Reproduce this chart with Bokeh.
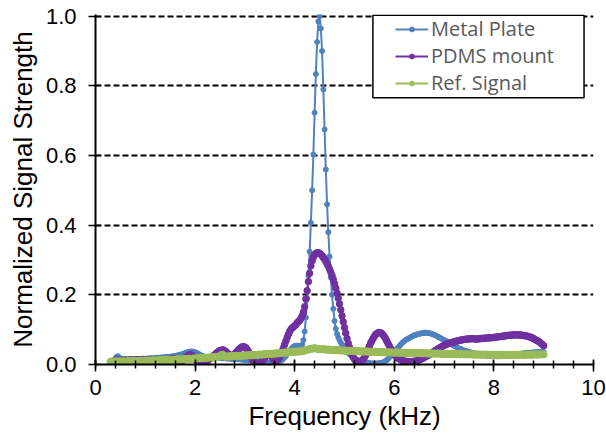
import numpy as np
from bokeh.plotting import figure
from bokeh.models import (FixedTicker, PrintfTickFormatter, Legend, LegendItem,
                          BoxAnnotation)
from bokeh.embed import file_html
from bokeh.resources import INLINE

# ---------------- data (in thousandths) -------------
freq_start = 0.3      # kHz, first sample
freq_step = 0.025     # kHz, sample spacing

metal_plate_milli = [
    None, None, None, None, 18, 22, 24, 20, 17, 16,      # 0.300
    15, 15, 16, 15, 14, 15, 15, 16, 15, 15,              # 0.550
    15, 16, 16, 15, 16, 16, 17, 16, 16, 17,              # 0.800
    17, 17, 18, 18, 17, 18, 18, 19, 19, 19,              # 1.050
    20, 20, 20, 21, 21, 21, 22, 22, 22, 23,              # 1.300
    23, 24, 24, 25, 26, 27, 28, 29, 30, 31,              # 1.550
    33, 34, 35, 36, 37, 37, 37, 36, 35, 34,              # 1.800
    32, 30, 28, 26, 24, 23, 22, 21, 21, 20,              # 2.050
    20, 20, 20, 20, 19, 19, 19, 19, 18, 18,              # 2.300
    18, 18, 18, 17, 17, 17, 17, 16, 16, 16,              # 2.550
    16, 16, 15, 15, 15, 14, 14, 14, 13, 13,              # 2.800
    13, 12, 12, 12, 11, 11, 11, 10, 10, 10,              # 3.050
    9, 9, 8, 8, 7, 7, 6, 5, 5, 4,                        # 3.300
    4, 4, 4, 5, 6, 7, 9, 11, 14, 17,                     # 3.550
    21, 25, 30, 35, 40, 44, 48, 51, 53, 54,              # 3.800
    54, 53, 52, 53, 57, 70, 95, 135, 190, 255,           # 4.050
    324, 407, 500, 603, 723, 834, 926, 985, 1000, 965,   # 4.300
    900, 790, 675, 560, 460, 380, 310, 250, 200, 160,    # 4.550
    125, 103, 88, 78, 70, 63, 56, 50, 45, 40,            # 4.800
    36, 33, 30, 27, 24, 21, 18, 16, 14, 12,              # 5.050
    10, 9, 8, 7, 6, 5, 5, 4, 4, 3,                       # 5.300
    3, 3, 3, 3, 3, 3, 4, 4, 5, 6,                        # 5.550
    8, 10, 13, 16, 20, 24, 28, 32, 36, 40,               # 5.800
    45, 49, 53, 57, 61, 64, 67, 70, 72, 74,              # 6.050
    76, 78, 80, 82, 84, 85, 86, 87, 88, 89,              # 6.300
    90, 90, 91, 91, 91, 90, 90, 89, 88, 87,              # 6.550
    85, 84, 82, 80, 78, 76, 74, 72, 70, 68,              # 6.800
    66, 64, 62, 60, 58, 56, 54, 52, 50, 48,              # 7.050
    46, 45, 43, 42, 40, 39, 38, 37, 36, 35,              # 7.300
    34, 33, 32, 31, 30, 30, 29, 28, 28, 27,              # 7.550
    27, 26, 26, 25, 25, 25, 24, 24, 24, 24,              # 7.800
    24, 24, 24, 24, 24, 25, 25, 25, 25, 26,              # 8.050
    26, 26, 27, 27, 28, 28, 29, 29, 30, 30,              # 8.300
    31, 31, 32, 32, 33, 33, 33, 34, 34, 34,              # 8.550
    35, 35, 35, 35, 36, 36, 36, 36, 36,                  # 8.800
]

pdms_mount_milli = [
    None, None, None, None, 12, 13, 12, 11, 12, 12,      # 0.300
    11, 12, 12, 11, 12, 12, 13, 12, 12, 12,              # 0.550
    12, 13, 13, 12, 12, 13, 13, 12, 12, 11,              # 0.800
    12, 12, 11, 10, 9, 8, 7, 6, 6, 7,                    # 1.050
    8, 9, 10, 11, 12, 13, 14, 14, 15, 16,                # 1.300
    16, 16, 15, 14, 12, 10, 9, 9, 11, 14,                # 1.550
    18, 22, 25, 27, 28, 27, 25, 21, 16, 11,              # 1.800
    7, 4, 3, 2, 2, 3, 5, 8, 11, 14,                      # 2.050
    17, 20, 23, 26, 29, 32, 35, 38, 40, 41,              # 2.300
    42, 41, 39, 36, 32, 29, 27, 26, 26, 28,              # 2.550
    31, 35, 39, 43, 46, 49, 51, 51, 50, 47,              # 2.800
    42, 36, 29, 22, 15, 9, 5, 3, 2, 2,                   # 3.050
    3, 6, 10, 15, 20, 24, 27, 28, 27, 24,                # 3.300
    19, 14, 11, 10, 12, 16, 22, 30, 39, 48,              # 3.550
    58, 68, 78, 87, 95, 101, 105, 108, 111, 114,         # 3.800
    120, 123, 127, 132, 140, 150, 166, 188, 212, 238,    # 4.050
    262, 283, 298, 308, 315, 319, 321, 321, 319, 316,    # 4.300
    312, 307, 302, 296, 289, 282, 274, 265, 255, 244,    # 4.550
    232, 219, 205, 190, 174, 157, 140, 123, 106, 90,     # 4.800
    75, 61, 49, 38, 29, 21, 15, 11, 9, 8,                # 5.050
    8, 9, 11, 15, 20, 27, 35, 44, 53, 62,                # 5.300
    68, 75, 81, 86, 89, 91, 92, 91, 89, 85,              # 5.550
    80, 74, 67, 60, 53, 46, 40, 34, 29, 25,              # 5.800
    21, 18, 16, 14, 12, 11, 10, 9, 9, 8,                 # 6.050
    8, 8, 8, 9, 9, 10, 11, 12, 13, 15,                   # 6.300
    16, 18, 20, 22, 24, 26, 28, 30, 33, 35,              # 6.550
    38, 40, 42, 45, 47, 49, 51, 53, 55, 57,              # 6.800
    58, 60, 61, 62, 63, 64, 65, 66, 67, 68,              # 7.050
    69, 70, 70, 71, 72, 72, 73, 73, 73, 74,              # 7.300
    74, 74, 74, 73, 73, 73, 74, 74, 75, 75,              # 7.550
    75, 76, 76, 76, 76, 77, 77, 77, 78, 78,              # 7.800
    79, 79, 80, 80, 81, 81, 82, 82, 83, 83,              # 8.050
    84, 84, 84, 85, 85, 85, 85, 85, 85, 85,              # 8.300
    84, 84, 83, 83, 82, 81, 80, 79, 78, 76,              # 8.550
    74, 72, 70, 68, 66, 63, 60, 57, 54,                  # 8.800
]

ref_signal_milli = [
    8, 8, 9, 8, 9, 9, 8, 9, 9, 8,                        # 0.300
    9, 9, 8, 9, 9, 10, 9, 9, 10, 9,                      # 0.550
    10, 10, 9, 10, 10, 10, 11, 10, 10, 11,               # 0.800
    11, 10, 11, 11, 11, 12, 11, 11, 12, 12,              # 1.050
    12, 12, 12, 13, 12, 13, 13, 13, 13, 14,              # 1.300
    13, 14, 14, 14, 15, 14, 15, 15, 15, 16,              # 1.550
    15, 16, 16, 16, 17, 16, 17, 17, 17, 18,              # 1.800
    18, 18, 19, 18, 19, 19, 20, 19, 20, 20,              # 2.050
    20, 21, 21, 20, 21, 22, 21, 22, 24, 27,              # 2.300
    28, 26, 23, 22, 23, 23, 24, 23, 24, 24,              # 2.550
    24, 25, 24, 25, 25, 25, 26, 25, 26, 26,              # 2.800
    26, 27, 26, 27, 27, 28, 27, 28, 28, 28,              # 3.050
    29, 28, 29, 29, 30, 29, 30, 30, 31, 30,              # 3.300
    31, 31, 32, 31, 32, 33, 32, 33, 33, 34,              # 3.550
    34, 35, 34, 35, 36, 35, 36, 37, 36, 37,              # 3.800
    37, 38, 37, 38, 38, 39, 40, 41, 42, 43,              # 4.050
    44, 45, 46, 46, 47, 46, 45, 45, 44, 44,              # 4.300
    44, 43, 44, 43, 43, 42, 43, 42, 42, 42,              # 4.550
    41, 42, 41, 41, 40, 41, 40, 40, 40, 39,              # 4.800
    40, 39, 39, 40, 39, 39, 38, 39, 38, 38,              # 5.050
    38, 38, 37, 38, 37, 38, 37, 37, 37, 36,              # 5.300
    37, 36, 36, 37, 36, 36, 36, 35, 36, 35,              # 5.550
    35, 36, 35, 35, 35, 34, 35, 34, 34, 35,              # 5.800
    34, 34, 34, 33, 34, 34, 33, 34, 33, 33,              # 6.050
    33, 34, 33, 33, 33, 32, 33, 33, 32, 33,              # 6.300
    32, 32, 33, 32, 32, 32, 31, 32, 32, 31,              # 6.550
    32, 31, 31, 32, 31, 31, 31, 30, 31, 31,              # 6.800
    30, 31, 30, 30, 31, 30, 30, 30, 29, 30,              # 7.050
    30, 29, 30, 30, 29, 29, 30, 29, 29, 29,              # 7.300
    29, 29, 28, 29, 29, 28, 29, 28, 28, 29,              # 7.550
    28, 28, 29, 28, 28, 28, 28, 27, 28, 28,              # 7.800
    28, 27, 28, 28, 27, 28, 27, 28, 28, 27,              # 8.050
    28, 27, 28, 27, 28, 28, 27, 28, 27, 28,              # 8.300
    28, 28, 27, 28, 28, 28, 29, 28, 28, 29,              # 8.550
    28, 29, 29, 28, 29, 29, 29, 29, 29,                  # 8.800
]

series_names = ["Metal Plate", "PDMS mount", "Ref. Signal"]
series_colors = ["#4F81BD", "#7030A0", "#9BBB59"]
marker_sizes = [5, 6.5, 7]

x_major_ticks = [0, 2, 4, 6, 8, 10]
x_minor_ticks = [round(0.4 * k, 1) for k in range(26)]
y_major_ticks = [0.0, 0.2, 0.4, 0.6, 0.8, 1.0]

x_title = "Frequency (kHz)"
y_title = "Normalized Signal Strength"

# ---------------- build ---------------------------------------------------------
n = len(ref_signal_milli)
freq = [round(freq_start + freq_step * i, 3) for i in range(n)]
series_values = [np.array(v, dtype=float) / 1000.0
                 for v in (metal_plate_milli, pdms_mount_milli, ref_signal_milli)]

p = figure(width=606, height=433, x_range=(0, 10), y_range=(0, 1.005),
           output_backend="svg", toolbar_location=None,
           min_border_left=95, min_border_right=13,
           min_border_top=14, min_border_bottom=68)
p.outline_line_color = None
p.background_fill_color = "white"
p.border_fill_color = "white"

p.xgrid.visible = False
p.ygrid.grid_line_color = "black"
p.ygrid.grid_line_dash = "6 3"
p.ygrid.grid_line_width = 1.8

tick_font = "Liberation Sans"
for ax in (p.xaxis[0], p.yaxis[0]):
    ax.axis_line_color = "black"
    ax.axis_line_width = 2
    ax.major_tick_line_color = "black"
    ax.major_tick_line_width = 1.5
    ax.minor_tick_line_color = "black"
    ax.minor_tick_line_width = 1.5
    ax.major_tick_in = 5
    ax.major_tick_out = 7
    ax.major_label_text_font = tick_font
    ax.major_label_text_font_size = "22px"
    ax.major_label_text_color = "black"
    ax.axis_label_text_font = tick_font
    ax.axis_label_text_font_size = "26px"
    ax.axis_label_text_font_style = "normal"
    ax.axis_label_text_color = "black"

p.xaxis.ticker = FixedTicker(ticks=x_major_ticks, minor_ticks=x_minor_ticks)
p.xaxis.minor_tick_in = 4
p.xaxis.minor_tick_out = 4
p.xaxis.major_label_standoff = 8
p.xaxis.axis_label_standoff = 3
p.xaxis.axis_label = x_title

p.yaxis.ticker = FixedTicker(ticks=y_major_ticks, minor_ticks=[])
p.yaxis.formatter = PrintfTickFormatter(format="%.1f")
p.yaxis.major_label_standoff = 12
p.yaxis.axis_label_standoff = 5
p.yaxis.axis_label = y_title

items = []
for name, color, size, vals in zip(series_names, series_colors, marker_sizes, series_values):
    lr = p.line(freq, vals, line_color=color, line_width=2)
    sr = p.scatter(freq, vals, marker="circle", size=size,
                   fill_color=color, line_color=color)
    items.append(LegendItem(label=name, renderers=[lr, sr]))

box = BoxAnnotation(left=5.57, right=9.81, top=1.003, bottom=0.766,
                    fill_color="white", fill_alpha=1.0,
                    line_color="black", line_width=1.5, line_alpha=1.0)
p.add_layout(box)

legend = Legend(items=items, location=(300, 268), padding=0, margin=0, spacing=0,
                border_line_color=None, background_fill_alpha=0.0,
                glyph_width=33, glyph_height=12, label_standoff=3,
                label_text_font="Open Sans", label_text_font_size="20px",
                label_text_color="#595959")
p.add_layout(legend)

open("out.html", "w").write(file_html(p, INLINE))
